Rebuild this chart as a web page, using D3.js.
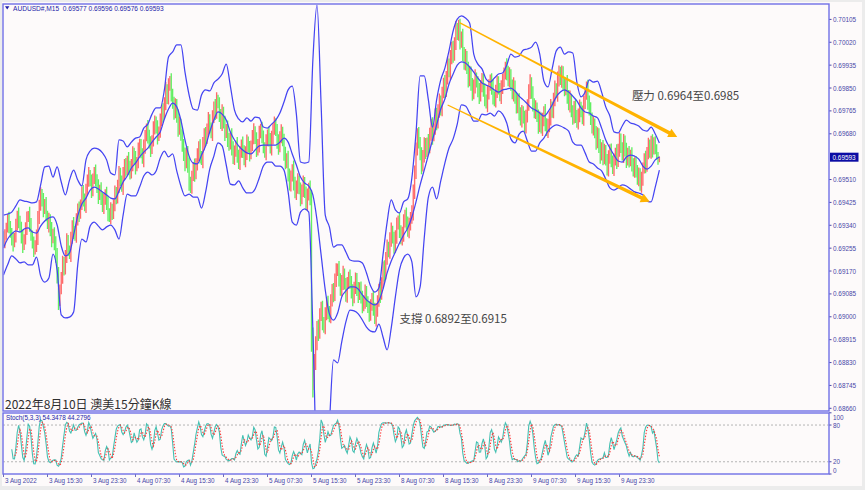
<!DOCTYPE html>
<html><head><meta charset="utf-8">
<script src="https://cdn.jsdelivr.net/npm/d3@7"></script>
<style>
html,body{margin:0;padding:0;background:#ececec;}
svg{display:block}
</style></head><body>
<svg id="c" width="865" height="490"></svg>
<script>
// ---------------- DATA (prices in points, 1 point = 0.00001) ----------------
const symbol = "AUDUSD#,M15";
const lastOHLC = ["0.69577", "0.69596", "0.69576", "0.69593"];
const firstOpen = 69300;
const closes = [
69280,69300,69335,69360,69340,69310,69285,69270,
69300,69340,69375,69360,69330,69295,69265,69290,
69330,69365,69380,69345,69305,69270,69250,69265,
69300,69360,69420,69455,69430,69400,
69420,69380,69340,69360,69320,69290,
69310,69270,69230,
69150,69060,69100,
69150,69200,69175,69230,69280,69250,69230,69290,69340,69320,69300,69360,69400,69380,
69420,69460,69440,69410,69470,69510,69530,69500,69470,69510,69540,69510,69480,69450,69475,
69440,69410,69430,69460,69420,69385,69370,69400,69380,
69420,69460,69440,69490,69530,69510,69480,69530,69565,69545,
69580,69560,69530,69570,69605,69590,69555,69580,69620,69640,
69610,69585,69630,69670,69700,69675,69645,69620,69660,69700,69725,69700,69670,69690,
69730,69765,69750,69800,69840,69815,69860,69875,69830,
69790,69760,69790,69740,69700,69720,69670,69640,
69600,69570,69610,69560,69500,69480,69520,69560,69530,69570,
69600,69630,69600,69580,69640,69680,69660,69700,69730,69705,69680,69740,69780,69760,69810,69790,
69750,69720,69760,69720,69680,69700,69660,69640,69670,69630,69590,69610,69640,
69600,69570,69610,69640,69620,69580,69610,69650,69630,69600,
69640,69670,69690,69660,69620,69640,69680,69700,69670,69630,69610,69650,69680,69660,69630,69660,69700,69720,69690,69650,69630,69670,69690,69650,
69610,69570,69590,69530,69490,69520,69550,69500,69460,69480,69510,69470,
69440,69470,69500,69460,69420,69450,69480,69440,
68900,68760,68830,68900,68960,68940,69010,69030,68980,
68960,69010,69050,69020,
69000,69060,69100,69080,69140,69170,69180,69140,69100,69130,69160,69120,69080,
69120,69150,69130,69090,69070,69110,69140,69100,69080,69110,
69070,69040,69060,69090,69060,69030,69010,69040,69070,69030,68995,69020,69060,
69100,69080,69130,69180,69160,69220,69260,69240,69290,
69320,69290,69260,69300,69340,69360,69320,69290,69310,69350,69380,69350,69320,69340,69370,69390,
69460,69540,69620,69680,69650,
69600,69560,69600,69640,69610,69650,
69630,69680,69710,69670,69700,69750,69720,69770,69800,
69770,69830,69870,69840,69890,69940,69910,69960,70000,69970,70020,70070,70050,70080,70020,
70040,69980,69940,69970,69920,69880,69910,69860,69830,
69860,69890,69870,69840,69820,69860,69880,
69840,69810,69790,69830,69860,69880,69850,69820,69800,69840,69870,69850,69820,69850,69880,
69900,69930,69910,69880,69900,
69860,69830,69860,69810,69780,69800,69760,69730,69760,69740,69710,69740,
69790,69840,69870,69830,69790,69760,69780,69740,
69710,69740,69700,69730,69760,69720,69690,69710,69740,
69780,69760,69810,69850,69830,69880,69910,69880,69905,
69870,69840,69870,69820,69790,69810,69760,69740,69780,69750,69720,
69750,69780,69760,69740,69790,69830,69850,69800,69770,
69740,69700,69720,69680,69650,69680,69630,69600,69630,69590,
69620,69580,69550,69590,69620,69580,69550,69580,69610,69580,
69620,69660,69630,69600,69650,69620,69580,69610,69580,
69600,69570,69540,69570,69545,69510,69530,
69490,69510,69550,
69590,69560,69610,69640,69610,
69650,69620,69650,69625,69600,69577,69593
];
const wicks = [
18,25,14,22,30,16,20,27,12,24,19,31,15,23,28,17,21,26,13,29,
22,16,28,19,24,33,15,26,20,30,18,25,14,27,21,32,17,23,29,26,
35,20,16,27,22,18,30,24,15,26,19,31,17,25,21,28,16,23,30,18,
24,19,27,15,29,22,17,26,20,31,16,25,21,28,14,23,30,18,26,20,
17,28,22,19,30,24,15,27,21,25,18,32,20,16,29,23,26,14,28,22,
21,16,29,24,18,31,20,26,15,27,23,19,30,17,25,22,28,16,33,24,
26,20,30,17,28,22,19,31,24,16,27,21,29,18,25,32,20,23,15,28,
19,26,22,30,16,28,21,25,18,31,23,17,27,20,29,24,15,26,22,30,
20,27,16,29,23,18,31,22,26,15,28,21,25,19,30,17,24,27,20,23,
15,24,29,18,26,21,30,17,25,22,19,28,16,27,23,31,20,24,18,26,
28,19,25,16,30,22,18,27,21,24,17,31,20,26,23,15,29,22,25,19,
24,27,18,26,30,60,32,28,24,30,22,26,30,19,25,23,28,20,24,22,
26,21,29,18,27,22,25,30,19,24,28,17,26,22,31,20,25,23,29,18,
21,27,19,30,24,16,28,25,18,26,22,31,20,23,29,17,25,30,21,27,
19,24,30,18,26,22,29,16,27,20,25,31,18,26,23,28,19,24,32,22,
28,21,25,18,30,20,27,24,16,29,22,26,31,18,24,27,20,30,22,25,
18,28,23,27,20,31,22,26,19,29,22,24,27,20,30,22,25,18,28,23,
20,27,22,30,18,24,29,20,26,22,28,16,30,23,20,25,31,18,22,27,
24,19,29,22,26,18,31,23,27,20,22,30,18,25,24,31,19,27,22,26,
29,18,24,31,20,27,22,25,16,30,23,19,28,22,31,18,26,24,29,20,
22,28,18,31,24,19,29,26,21,17,28,23,31,19,26,22,30,18,24,27,
19,25,30,18,24,31,22,27,19,26,17,29,24,21,31,19,27,23,18,25,
29,21,24,19,27,18,31,23,25,21,19,29,24,27,18,25,21,30,19,23,
27,19,25,22,29,23,18,27,21,25,19,23,28,17,21,16,12,3
];
// Band lines, one value every 3 bars
const bandStep = 3;
const bandUpper = [
69378,69382,69389,69412,69434,69430,69427,69423,69427,69490,
69557,69560,69519,69557,69501,69453,69508,69545,69508,69486,
69583,69616,69627,69623,69609,69583,69534,69527,69657,69653,
69631,69649,69664,69668,69701,69716,69753,69776,69776,69843,
69965,69984,70010,70010,69909,69824,69772,69768,69824,69843,
69839,69869,69883,69902,69939,69857,69768,69735,69724,69739,
69727,69742,69739,69705,69701,69716,69731,69757,69798,69843,
69857,69753,69575,69571,69575,69954,70158,69787,69378,69334,
69259,69267,69267,69241,69211,69207,69207,69200,69163,69114,
69092,69107,69230,69352,69434,69397,69386,69427,69438,69516,
69683,69895,69895,69806,69705,69806,69880,69924,69988,70062,
70106,70118,70110,70092,69976,69939,69921,69883,69872,69887,
69902,69906,69935,69976,69965,69969,69991,69995,70002,70021,
69976,69876,69854,69921,69988,70002,69976,69984,69980,69872,
69817,69835,69880,69872,69876,69835,69780,69746,69687,69683,
69709,69731,69720,69716,69709,69694,69690,69705,69679,69646
];
const bandMiddle = [
69256,69289,69308,69319,69315,69326,69330,69315,69311,69337,
69356,69367,69371,69341,69263,69226,69237,69304,69375,69419,
69441,69471,69482,69475,69464,69453,69441,69438,69467,69501,
69523,69553,69571,69594,69612,69627,69649,69668,69687,69735,
69772,69794,69780,69731,69657,69597,69571,69568,69601,69635,
69687,69731,69761,69753,69731,69687,69657,69635,69620,69609,
69605,69620,69635,69638,69638,69638,69638,69649,69664,69649,
69605,69564,69519,69497,69486,69453,69360,69230,69100,69011,
68988,69014,69074,69096,69111,69111,69103,69081,69063,69051,
69044,69059,69103,69163,69207,69241,69274,69304,69330,69371,
69427,69490,69545,69601,69657,69713,69772,69809,69865,69902,
69935,69947,69943,69928,69909,69887,69869,69861,69854,69843,
69835,69843,69846,69850,69839,69820,69806,69791,69776,69768,
69757,69746,69761,69787,69817,69835,69843,69835,69820,69802,
69776,69761,69757,69746,69739,69701,69657,69627,69601,69579,
69575,69594,69601,69597,69586,69560,69549,69560,69583,69594
];
const bandLower = [
69155,69193,69226,69215,69200,69204,69193,69193,69222,69152,
69129,69144,69233,69174,69007,68996,68999,69018,69193,69289,
69278,69337,69352,69337,69323,69334,69341,69323,69289,69378,
69456,69449,69449,69482,69523,69538,69527,69542,69590,69616,
69594,69605,69542,69486,69449,69456,69445,69445,69404,69464,
69549,69597,69646,69635,69564,69493,69490,69505,69479,69460,
69460,69475,69516,69560,69575,69575,69560,69560,69545,69464,
69352,69341,69389,69401,69389,68951,68394,68245,68320,68598,
68840,68829,68907,68981,69025,69022,69011,68988,68962,68947,
68944,68973,68925,68877,68959,69074,69174,69219,69233,69204,
69074,69111,69293,69445,69482,69438,69505,69571,69627,69661,
69716,69787,69783,69757,69727,69727,69753,69750,69757,69746,
69765,69753,69720,69661,69646,69679,69690,69653,69616,69616,
69646,69664,69690,69705,69713,69709,69701,69690,69649,69638,
69638,69609,69575,69568,69553,69542,69512,69479,69471,69479,
69490,69486,69475,69464,69460,69453,69430,69427,69482,69545
];
const priceTicks = [70105,70020,69935,69850,69765,69680,69510,69425,69340,69255,69170,69085,69000,68915,68830,68745,68660];
const currentPrice = 69593;
const timeLabels = ["3 Aug 2022","3 Aug 15:30","3 Aug 23:30","4 Aug 07:30","4 Aug 15:30","4 Aug 23:30","5 Aug 07:30","5 Aug 15:30","5 Aug 23:30","8 Aug 07:30","8 Aug 15:30","8 Aug 23:30","9 Aug 07:30","9 Aug 15:30","9 Aug 23:30"];
const timeLabelStep = 32;
const stochLevels = [80, 20];
const stochAxis = [100, 80, 20, 0];
const stochText = "Stoch(5,3,3) 54.3478 44.2796";
const stochParams = {k: 5, slow: 3, d: 3};
const title = "2022年8月10日 澳美15分鐘K線";
const notes = [
  {text: "壓力 0.6964至0.6985", bar: 457, price: 69824},
  {text: "支撐 0.6892至0.6915", bar: 288, price: 68996}
];
const trendLines = [
  {from: [332, 70092], to: [490, 69668]},
  {from: [323, 69787], to: [470, 69427]}
];

// ---------------- LAYOUT ----------------
const W = 865, H = 490;
const plot = {x0: 3, x1: 829, y0: 4, y1: 411};
const sub = {y0: 413, y1: 474};
const C = {frame: "#6f6fe6", up: "#ff6a6a", down: "#62ef62", band: "#4444f2",
           axisText: "#4848a8", header: "#1c1ca8", orange: "#ffb300"};
const FONT = "'Liberation Sans', Arial, sans-serif";
const CJK = "'Noto Sans CJK TC','Noto Sans CJK SC',sans-serif";

const n = closes.length;
const xs = d3.scaleLinear().domain([0, 1]).range([3.5, 4.875]);
const ys = d3.scaleLinear().domain([68660, 70105]).range([408.3, 19.4]);
const ss = d3.scaleLinear().domain([0, 100]).range([474, 412.8]);

const svg = d3.select("#c");
svg.append("rect").attr("width", W).attr("height", H).attr("fill", "#ececec");
svg.append("rect").attr("x", 2).attr("y", 2).attr("width", 860).attr("height", 484).attr("fill", "#fdfafa");

const defs = svg.append("defs");
defs.append("clipPath").attr("id", "cm").append("rect")
  .attr("x", plot.x0 + 0.5).attr("y", plot.y0 + 0.5).attr("width", plot.x1 - plot.x0 - 1).attr("height", plot.y1 - plot.y0 - 1);
defs.append("clipPath").attr("id", "cs").append("rect")
  .attr("x", plot.x0 + 0.5).attr("y", sub.y0 + 0.5).attr("width", plot.x1 - plot.x0 - 1).attr("height", sub.y1 - sub.y0 - 1);

// ---------------- CANDLES ----------------
const opens = closes.map((c, i) => i === 0 ? firstOpen : closes[i - 1]);
const highs = closes.map((c, i) => Math.max(opens[i], c) + wicks[i]);
const lows = closes.map((c, i) => Math.min(opens[i], c) - wicks[i]);
const bars = closes.map((c, i) => ({i, o: opens[i], h: highs[i], l: lows[i], c}));

const gMain = svg.append("g").attr("clip-path", "url(#cm)");
gMain.append("g").selectAll("line").data(bars).join("line")
  .attr("x1", d => xs(d.i)).attr("x2", d => xs(d.i))
  .attr("y1", d => ys(d.h)).attr("y2", d => ys(d.l))
  .attr("stroke", d => d.c >= d.o ? C.up : C.down).attr("stroke-width", 1.35);

// ---------------- BANDS ----------------
const bandLine = d3.line().x((v, k) => xs(k * bandStep)).y(v => ys(v)).curve(d3.curveMonotoneX);
[bandUpper, bandMiddle, bandLower].forEach(b => {
  gMain.append("path").attr("d", bandLine(b)).attr("fill", "none")
    .attr("stroke", C.band).attr("stroke-width", 1.25);
});

// ---------------- TREND ARROWS ----------------
trendLines.forEach(t => {
  const x0 = xs(t.from[0]), y0 = ys(t.from[1]), x1 = xs(t.to[0]), y1 = ys(t.to[1]);
  const len = Math.hypot(x1 - x0, y1 - y0), ux = (x1 - x0) / len, uy = (y1 - y0) / len;
  const nx = -uy, ny = ux;
  const head = 9, bx = x1 - ux * head, by = y1 - uy * head;
  const w0 = 0.6, w1 = 1.8, hw = 4.6;
  const pts = [
    [x0 + nx * w0, y0 + ny * w0], [bx + nx * w1, by + ny * w1], [bx + nx * hw, by + ny * hw], [x1, y1],
    [bx - nx * hw, by - ny * hw], [bx - nx * w1, by - ny * w1], [x0 - nx * w0, y0 - ny * w0]
  ];
  svg.append("path").attr("d", "M" + pts.map(p => p.join(",")).join("L") + "Z").attr("fill", C.orange);
});

// ---------------- TEXTS IN MAIN ----------------
notes.forEach(nt => {
  svg.append("text").attr("x", xs(nt.bar)).attr("y", ys(nt.price)).attr("dominant-baseline", "central")
    .attr("font-family", CJK).attr("font-size", 11.5).attr("fill", "#464646").text(nt.text);
});
svg.append("text").attr("x", 5).attr("y", 403).attr("dominant-baseline", "central")
  .attr("font-family", CJK).attr("font-size", 12).attr("fill", "#2e2e2e").text(title);

// header
svg.append("path").attr("d", "M5,6.3L9.4,6.3L7.2,9.6Z").attr("fill", C.header);
svg.append("text").attr("x", 13).attr("y", 10.6).attr("xml:space", "preserve")
  .attr("font-family", FONT).attr("font-size", 6.6).attr("fill", C.header)
  .text(symbol + "  " + lastOHLC.join(" "));

// ---------------- PRICE AXIS ----------------
const gAx = svg.append("g");
priceTicks.forEach(p => {
  gAx.append("line").attr("x1", plot.x1).attr("x2", plot.x1 + 2.5).attr("y1", ys(p)).attr("y2", ys(p))
    .attr("stroke", C.axisText).attr("stroke-width", 1);
  gAx.append("text").attr("x", 833).attr("y", ys(p)).attr("dominant-baseline", "central")
    .attr("font-family", FONT).attr("font-size", 6.4).attr("fill", C.axisText).text("0." + p);
});
gAx.append("rect").attr("x", 830).attr("y", ys(currentPrice) - 4.5).attr("width", 28.5).attr("height", 9).attr("fill", "#0c0ca4");
gAx.append("text").attr("x", 832.5).attr("y", ys(currentPrice)).attr("dominant-baseline", "central")
  .attr("font-family", FONT).attr("font-size", 6.4).attr("fill", "#ffffff").text("0." + currentPrice);

// ---------------- STOCHASTIC ----------------
const K = stochParams.k, SL = stochParams.slow, DP = stochParams.d;
const num = [], den = [];
for (let i = 0; i < n; i++) {
  if (i < K - 1) { num.push(null); den.push(null); continue; }
  let hh = -Infinity, ll = Infinity;
  for (let j = i - K + 1; j <= i; j++) { hh = Math.max(hh, highs[j]); ll = Math.min(ll, lows[j]); }
  num.push(closes[i] - ll); den.push(hh - ll);
}
const mainS = [], sigS = [];
for (let i = 0; i < n; i++) {
  if (i < K - 1 + SL - 1) { mainS.push(null); continue; }
  let a = 0, b = 0;
  for (let j = i - SL + 1; j <= i; j++) { a += num[j]; b += den[j]; }
  mainS.push(b === 0 ? 100 : 100 * a / b);
}
for (let i = 0; i < n; i++) {
  if (i < K - 1 + SL - 1 + DP - 1) { sigS.push(null); continue; }
  let a = 0;
  for (let j = i - DP + 1; j <= i; j++) a += mainS[j];
  sigS.push(a / DP);
}
const gS = svg.append("g").attr("clip-path", "url(#cs)");
stochLevels.forEach(l => {
  gS.append("line").attr("x1", plot.x0).attr("x2", plot.x1).attr("y1", ss(l)).attr("y2", ss(l))
    .attr("stroke", "#b4b4b4").attr("stroke-width", 1).attr("stroke-dasharray", "2,2");
});
const sLine = d3.line().defined(v => v !== null).x((v, i) => xs(i)).y(v => ss(v));
gS.append("path").attr("d", sLine(mainS)).attr("fill", "none").attr("stroke", "#45c0b2").attr("stroke-width", 1.1);
gS.append("path").attr("d", sLine(sigS)).attr("fill", "none").attr("stroke", "#ff3535").attr("stroke-width", 1.1).attr("stroke-dasharray", "1.4,1.6");
svg.append("text").attr("x", 6).attr("y", 419.5).attr("font-family", FONT).attr("font-size", 6.4)
  .attr("fill", C.header).text(stochText);
stochAxis.forEach(v => {
  const yy = Math.max(417, Math.min(470, ss(v)));
  svg.append("text").attr("x", 833).attr("y", yy).attr("dominant-baseline", "central")
    .attr("font-family", FONT).attr("font-size", 6.4).attr("fill", C.axisText).text(v);
  svg.append("line").attr("x1", plot.x1).attr("x2", plot.x1 + 2.5).attr("y1", ss(v)).attr("y2", ss(v))
    .attr("stroke", C.axisText).attr("stroke-width", 1);
});

// ---------------- TIME AXIS ----------------
timeLabels.forEach((t, k) => {
  const x = xs(k * timeLabelStep);
  svg.append("line").attr("x1", x).attr("x2", x).attr("y1", sub.y1).attr("y2", sub.y1 + 3)
    .attr("stroke", C.axisText).attr("stroke-width", 0.8);
  svg.append("text").attr("x", x + 1.5).attr("y", 480.5).attr("dominant-baseline", "central")
    .attr("font-family", FONT).attr("font-size", 6.3).attr("fill", C.axisText).text(t);
});

// ---------------- FRAMES ----------------
svg.append("rect").attr("x", plot.x0).attr("y", plot.y0).attr("width", plot.x1 - plot.x0).attr("height", plot.y1 - plot.y0)
  .attr("fill", "none").attr("stroke", C.frame).attr("stroke-width", 1.4);
svg.append("rect").attr("x", plot.x0).attr("y", sub.y0).attr("width", plot.x1 - plot.x0).attr("height", sub.y1 - sub.y0)
  .attr("fill", "none").attr("stroke", C.frame).attr("stroke-width", 1.4);
</script>
</body></html>
